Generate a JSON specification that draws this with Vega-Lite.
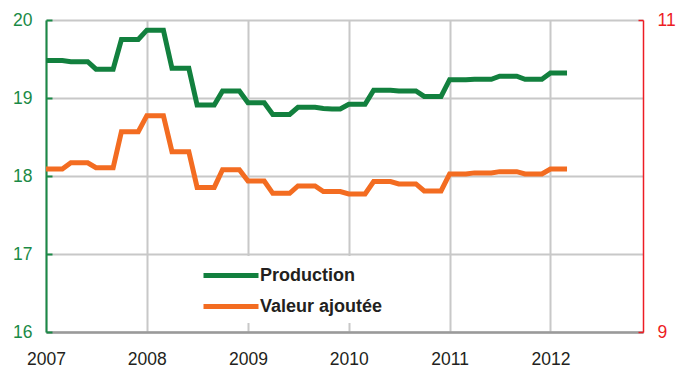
{
  "$schema": "https://vega.github.io/schema/vega-lite/v6.json",
  "autosize": {"type": "none"},
  "padding": {"left": 46, "top": 20, "right": 35, "bottom": 35},
  "width": 597,
  "height": 312,
  "config": {
    "view": {"stroke": null},
    "font": "Liberation Sans",
    "axis": {"labelFont": "Liberation Sans", "labelFontSize": 17.5, "title": null, "gridColor": "#c8c8c8", "gridWidth": 2}
  },
  "data": {
    "values": [
      {"date": "2007/01/01", "prod": 19.48, "va": 10.045},
      {"date": "2007/02/01", "prod": 19.48, "va": 10.045},
      {"date": "2007/03/01", "prod": 19.48, "va": 10.045},
      {"date": "2007/04/01", "prod": 19.465, "va": 10.085},
      {"date": "2007/05/01", "prod": 19.465, "va": 10.085},
      {"date": "2007/06/01", "prod": 19.465, "va": 10.085},
      {"date": "2007/07/01", "prod": 19.37, "va": 10.053},
      {"date": "2007/08/01", "prod": 19.37, "va": 10.053},
      {"date": "2007/09/01", "prod": 19.37, "va": 10.053},
      {"date": "2007/10/01", "prod": 19.75, "va": 10.284},
      {"date": "2007/11/01", "prod": 19.75, "va": 10.284},
      {"date": "2007/12/01", "prod": 19.75, "va": 10.284},
      {"date": "2008/01/01", "prod": 19.87, "va": 10.387},
      {"date": "2008/02/01", "prod": 19.87, "va": 10.387},
      {"date": "2008/03/01", "prod": 19.87, "va": 10.387},
      {"date": "2008/04/01", "prod": 19.38, "va": 10.156},
      {"date": "2008/05/01", "prod": 19.38, "va": 10.156},
      {"date": "2008/06/01", "prod": 19.38, "va": 10.156},
      {"date": "2008/07/01", "prod": 18.91, "va": 9.927},
      {"date": "2008/08/01", "prod": 18.91, "va": 9.927},
      {"date": "2008/09/01", "prod": 18.91, "va": 9.927},
      {"date": "2008/10/01", "prod": 19.09, "va": 10.04},
      {"date": "2008/11/01", "prod": 19.09, "va": 10.04},
      {"date": "2008/12/01", "prod": 19.09, "va": 10.04},
      {"date": "2009/01/01", "prod": 18.94, "va": 9.968},
      {"date": "2009/02/01", "prod": 18.94, "va": 9.968},
      {"date": "2009/03/01", "prod": 18.94, "va": 9.968},
      {"date": "2009/04/01", "prod": 18.79, "va": 9.889},
      {"date": "2009/05/01", "prod": 18.79, "va": 9.889},
      {"date": "2009/06/01", "prod": 18.79, "va": 9.889},
      {"date": "2009/07/01", "prod": 18.88, "va": 9.936},
      {"date": "2009/08/01", "prod": 18.88, "va": 9.936},
      {"date": "2009/09/01", "prod": 18.88, "va": 9.936},
      {"date": "2009/10/01", "prod": 18.865, "va": 9.9},
      {"date": "2009/11/01", "prod": 18.86, "va": 9.9},
      {"date": "2009/12/01", "prod": 18.86, "va": 9.9},
      {"date": "2010/01/01", "prod": 18.92, "va": 9.885},
      {"date": "2010/02/01", "prod": 18.92, "va": 9.885},
      {"date": "2010/03/01", "prod": 18.92, "va": 9.885},
      {"date": "2010/04/01", "prod": 19.1, "va": 9.964},
      {"date": "2010/05/01", "prod": 19.1, "va": 9.964},
      {"date": "2010/06/01", "prod": 19.1, "va": 9.964},
      {"date": "2010/07/01", "prod": 19.09, "va": 9.949},
      {"date": "2010/08/01", "prod": 19.09, "va": 9.949},
      {"date": "2010/09/01", "prod": 19.09, "va": 9.949},
      {"date": "2010/10/01", "prod": 19.02, "va": 9.904},
      {"date": "2010/11/01", "prod": 19.02, "va": 9.904},
      {"date": "2010/12/01", "prod": 19.02, "va": 9.904},
      {"date": "2011/01/01", "prod": 19.235, "va": 10.013},
      {"date": "2011/02/01", "prod": 19.235, "va": 10.013},
      {"date": "2011/03/01", "prod": 19.235, "va": 10.013},
      {"date": "2011/04/01", "prod": 19.24, "va": 10.02},
      {"date": "2011/05/01", "prod": 19.24, "va": 10.02},
      {"date": "2011/06/01", "prod": 19.24, "va": 10.02},
      {"date": "2011/07/01", "prod": 19.28, "va": 10.028},
      {"date": "2011/08/01", "prod": 19.28, "va": 10.028},
      {"date": "2011/09/01", "prod": 19.28, "va": 10.028},
      {"date": "2011/10/01", "prod": 19.24, "va": 10.013},
      {"date": "2011/11/01", "prod": 19.24, "va": 10.013},
      {"date": "2011/12/01", "prod": 19.24, "va": 10.013},
      {"date": "2012/01/01", "prod": 19.32, "va": 10.045},
      {"date": "2012/02/01", "prod": 19.32, "va": 10.045},
      {"date": "2012/03/01", "prod": 19.32, "va": 10.045}
    ]
  },
  "encoding": {
    "x": {
      "field": "date",
      "type": "temporal",
      "scale": {"domain": [{"year": 2007, "month": 1, "date": 1}, {"year": 2012, "month": 12, "date": 1}]},
      "axis": {
        "values": [{"year": 2007, "month": 1, "date": 1}, {"year": 2008, "month": 1, "date": 1}, {"year": 2009, "month": 1, "date": 1}, {"year": 2010, "month": 1, "date": 1}, {"year": 2011, "month": 1, "date": 1}, {"year": 2012, "month": 1, "date": 1}],
        "format": "%Y",
        "grid": true,
        "ticks": false,
        "labelPadding": 18,
        "labelColor": "#231f20",
        "domainColor": "#9a9a9a",
        "domainWidth": 2.5,
        "labelFlush": false
      }
    }
  },
  "layer": [
    {
      "mark": {"type": "line", "strokeWidth": 5},
      "encoding": {
        "y": {
          "field": "prod",
          "type": "quantitative",
          "scale": {"domain": [16, 20], "zero": false, "nice": false},
          "axis": {
            "orient": "left",
            "values": [16, 17, 18, 19, 20],
            "format": "d",
            "grid": true,
            "labelColor": "#1a8a46",
            "domainColor": "#1a8a46",
            "domainWidth": 2,
            "tickColor": "#1a8a46",
            "tickWidth": 2,
            "tickSize": -6,
            "labelPadding": 20
          }
        },
        "color": {
          "datum": "Production",
          "type": "nominal",
          "scale": {"domain": ["Production", "Valeur ajoutée"], "range": ["#12803e", "#f36c21"]},
          "legend": {
            "title": null,
            "orient": "none",
            "legendX": 149,
            "legendY": 236,
            "direction": "vertical",
            "fillColor": "white",
            "padding": 6,
            "symbolType": "M-1,0H4",
            "symbolStrokeWidth": 5,
            "symbolSize": 484,
            "labelFont": "Liberation Sans",
            "labelFontWeight": "bold",
            "labelFontSize": 18,
            "labelColor": "#231f20",
            "labelOffset": 32,
            "rowPadding": 7
          }
        }
      }
    },
    {
      "mark": {"type": "line", "strokeWidth": 5},
      "encoding": {
        "y": {
          "field": "va",
          "type": "quantitative",
          "scale": {"domain": [9, 11], "zero": false, "nice": false},
          "axis": {
            "orient": "right",
            "values": [9, 10, 11],
            "format": "d",
            "grid": false,
            "labelColor": "#ed1c24",
            "domainColor": "#ed1c24",
            "domainWidth": 1.5,
            "tickColor": "#ed1c24",
            "tickWidth": 1.5,
            "tickSize": -5,
            "labelPadding": 19
          }
        },
        "color": {"datum": "Valeur ajoutée", "type": "nominal"}
      }
    }
  ],
  "resolve": {"scale": {"y": "independent"}}
}
